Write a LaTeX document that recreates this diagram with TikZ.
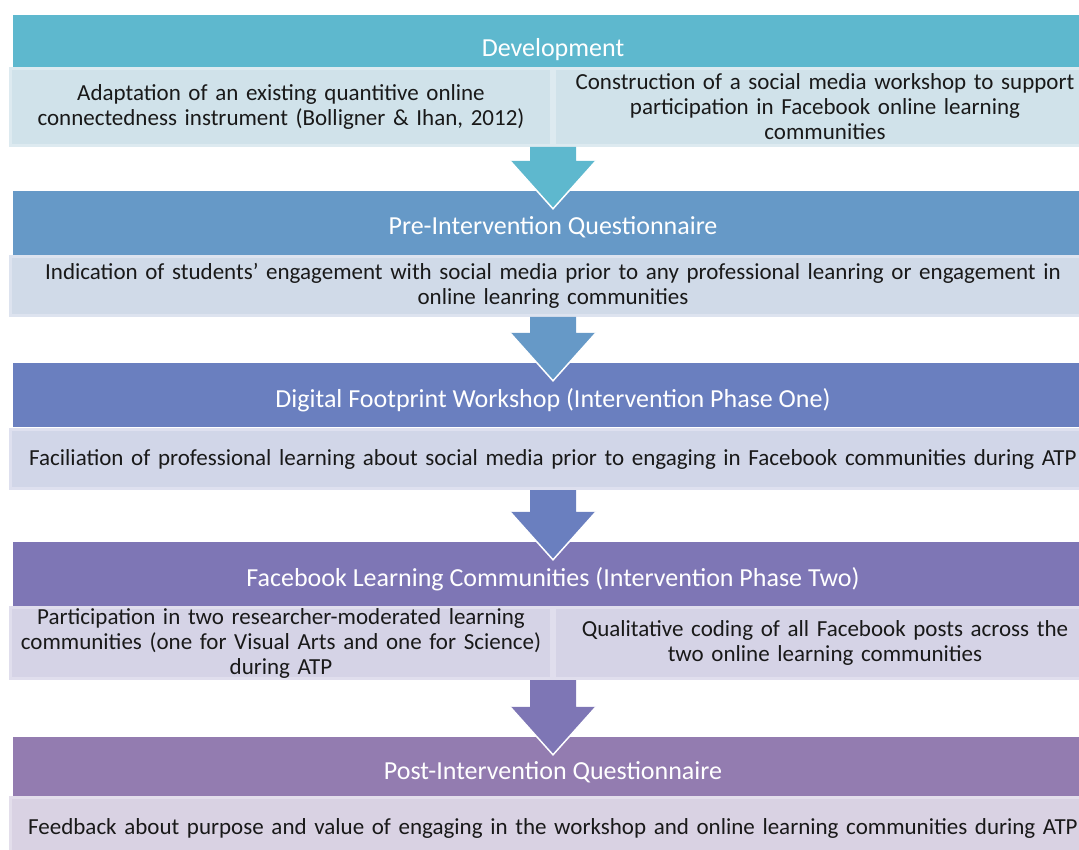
\documentclass[tikz,border=0pt]{standalone}
\usepackage{fontspec}
\setmainfont{Carlito}
\usetikzlibrary{calc}

\definecolor{devhead}{HTML}{5EB8CE}
\definecolor{devsub}{HTML}{D0E2EA}
\definecolor{devrim}{HTML}{DDEAF0}
\definecolor{prehead}{HTML}{6699C7}
\definecolor{presub}{HTML}{D0DAE8}
\definecolor{prerim}{HTML}{DDE3EF}
\definecolor{dfwhead}{HTML}{6A7FBF}
\definecolor{dfwsub}{HTML}{D1D6E8}
\definecolor{dfwrim}{HTML}{DEE0EF}
\definecolor{fbchead}{HTML}{7E76B5}
\definecolor{fbcsub}{HTML}{D5D3E6}
\definecolor{fbcrim}{HTML}{E0DEED}
\definecolor{posthead}{HTML}{937CB0}
\definecolor{postsub}{HTML}{D9D2E3}
\definecolor{postrim}{HTML}{E3DEEB}

\tikzstyle{head}=[rectangle,minimum width=1080pt,text=white,text height=24pt,text depth=0pt,font=\fontsize{26}{30}\selectfont]
\tikzstyle{sub}=[rectangle,line width=3pt,text=black!90,align=center,inner sep=0pt,font=\fontsize{23}{25}\selectfont]
\tikzstyle{half}=[sub,minimum width=541pt,text width=530pt]
\tikzstyle{full}=[sub,minimum width=1085pt,text width=1080pt]

% block arrow from a sub box down into the next header
\newcommand{\flowarrow}[3]{%
  \path (#2.north |- #1.south) coordinate (a0) (#2.north) coordinate (a1);
  \fill[#3] ($(a0)+(-23,0)$) -- ($(a1)+(-23,-30)$) -- ($(a1)+(-43,-30)$)
    -- ($(a1)+(0,18)$) -- ($(a1)+(43,-30)$) -- ($(a1)+(23,-30)$)
    -- ($(a0)+(23,0)$) -- cycle;
  \draw[white,line width=1.5pt] ($(a1)+(-43,-30)$) -- ($(a1)+(0,18)$) -- ($(a1)+(43,-30)$);
}

\begin{document}
\begin{tikzpicture}[x=1pt,y=-1pt]
  \clip (0,0) rectangle (1079,850);

  \node[head,fill=devhead,minimum height=60pt] (dev) at (553,45) {Development};
  \node[half,fill=devsub,draw=devrim,minimum height=77pt] (devA) at (281,107)
    {Adaptation of an existing quantitive online\\connectedness instrument (Bolligner \& Ihan, 2012)};
  \node[half,fill=devsub,draw=devrim,minimum height=77pt] (devB) at (825,107)
    {Construction of a social media workshop to support\\participation in Facebook online learning\\communities};

  \node[head,fill=prehead,minimum height=64pt] (pre) at (553,223) {Pre-Intervention Questionnaire};
  \node[full,fill=presub,draw=prerim,minimum height=59pt] (preS) at (553,286)
    {Indication of students' engagement with social media prior to any professional leanring or engagement in\\online leanring communities};

  \node[head,fill=dfwhead,minimum height=64pt] (dfw) at (553,395) {Digital Footprint Workshop (Intervention Phase One)};
  \node[full,fill=dfwsub,draw=dfwrim,minimum height=59pt] (dfwS) at (553,459)
    {Faciliation of professional learning about social media prior to engaging in Facebook communities during ATP};

  \node[head,fill=fbchead,minimum height=64pt] (fbc) at (553,574) {Facebook Learning Communities (Intervention Phase Two)};
  \node[half,fill=fbcsub,draw=fbcrim,minimum height=71pt] (fbcA) at (281,643)
    {Participation in two researcher-moderated learning\\communities (one for Visual Arts and one for Science)\\during ATP};
  \node[half,fill=fbcsub,draw=fbcrim,minimum height=71pt] (fbcB) at (825,643)
    {Qualitative coding of all Facebook posts across the\\two online learning communities};

  \node[head,fill=posthead,minimum height=60pt] (post) at (553,767) {Post-Intervention Questionnaire};
  \node[full,fill=postsub,draw=postrim,minimum height=61pt] (postS) at (553,828)
    {Feedback about purpose and value of engaging in the workshop and online learning communities during ATP};

  \flowarrow{devA}{pre}{devhead}
  \flowarrow{preS}{dfw}{prehead}
  \flowarrow{dfwS}{fbc}{dfwhead}
  \flowarrow{fbcA}{post}{fbchead}
\end{tikzpicture}
\end{document}
